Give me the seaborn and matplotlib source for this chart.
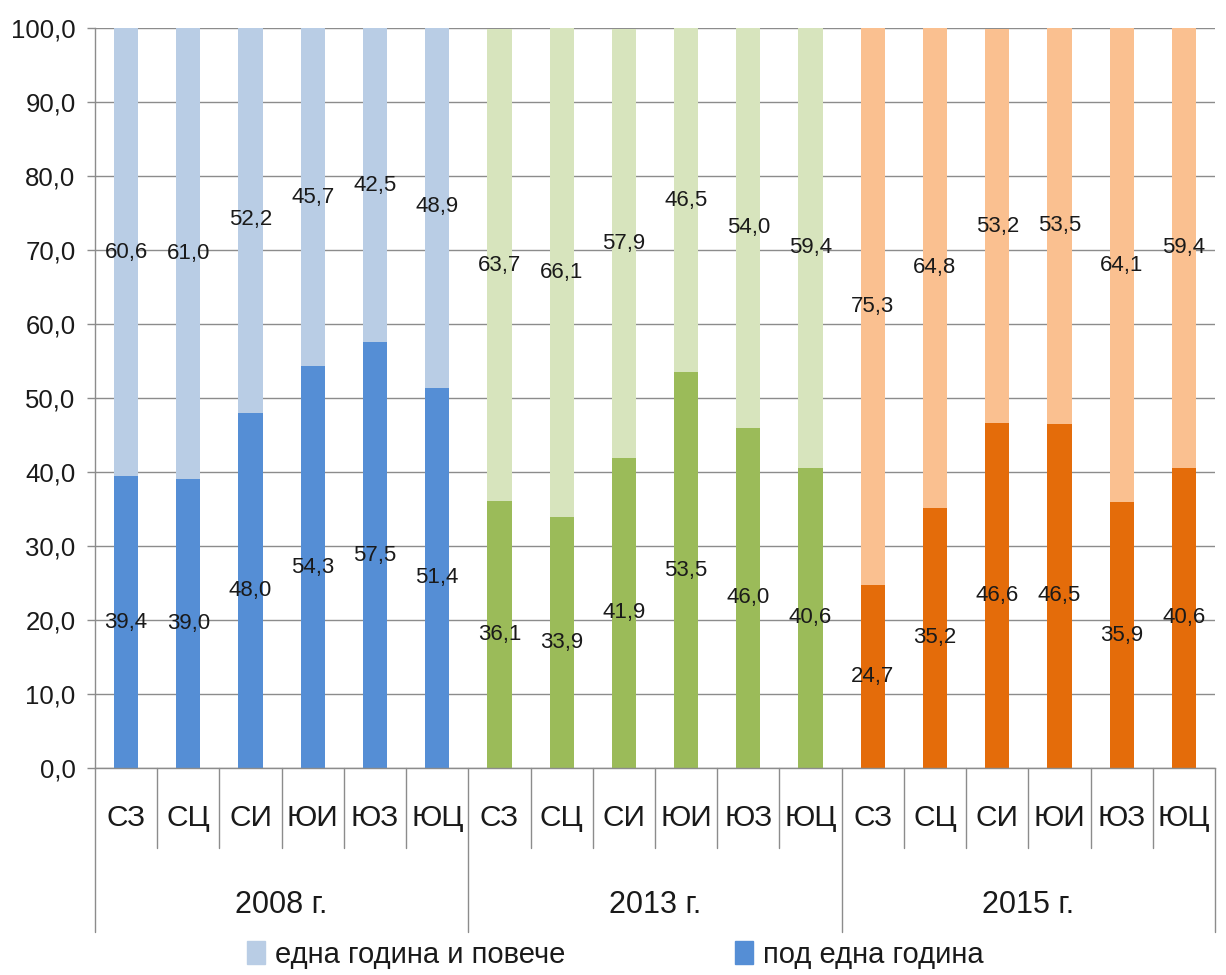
import numpy as np
import pandas as pd
import seaborn as sns
import matplotlib.pyplot as plt
import matplotlib.transforms as mtransforms
from matplotlib.patches import Patch

years = ['2008 г.', '2013 г.', '2015 г.']
regions = ['СЗ', 'СЦ', 'СИ', 'ЮИ', 'ЮЗ', 'ЮЦ']

# под една година
under_2008 = [39.4, 39.0, 48.0, 54.3, 57.5, 51.4]
under_2013 = [36.1, 33.9, 41.9, 53.5, 46.0, 40.6]
under_2015 = [24.7, 35.2, 46.6, 46.5, 35.9, 40.6]
# една година и повече
over_2008 = [60.6, 61.0, 52.2, 45.7, 42.5, 48.9]
over_2013 = [63.7, 66.1, 57.9, 46.5, 54.0, 59.4]
over_2015 = [75.3, 64.8, 53.2, 53.5, 64.1, 59.4]

light_cols = ['#B9CDE5', '#D7E4BD', '#FAC090']
dark_cols = ['#558ED5', '#9BBB59', '#E46C0A']
legend_labels = ['една година и повече', 'под една година']

rows = []
for y, un, ov in zip(years, [under_2008, under_2013, under_2015], [over_2008, over_2013, over_2015]):
    for r, u, o in zip(regions, un, ov):
        rows.append({'key': y + '|' + r, 'year': y, 'region': r, 'under': u, 'over': o, 'total': u + o})
df = pd.DataFrame(rows)

sns.set_style('white')
plt.rcParams['font.family'] = ['Liberation Sans', 'DejaVu Sans']

grid_col = '#8C8C8C'
txt_col = '#1a1a1a'
fig = plt.figure(figsize=(12.26, 9.75), dpi=100)
ax = fig.add_axes([0.0775, 0.2123, 0.9135, 0.759])

sns.barplot(data=df, x='key', y='total', hue='year', palette=light_cols, dodge=False,
            width=0.39, saturation=1, legend=False, linewidth=0, ax=ax)
sns.barplot(data=df, x='key', y='under', hue='year', palette=dark_cols, dodge=False,
            width=0.39, saturation=1, legend=False, linewidth=0, ax=ax)

fmt = lambda v: f'{v:.1f}'.replace('.', ',')
for i, row in df.iterrows():
    ax.text(i, row['under'] / 2, fmt(row['under']), ha='center', va='center', fontsize=16, color=txt_col)
    ax.text(i, row['under'] + row['over'] / 2, fmt(row['over']), ha='center', va='center', fontsize=16, color=txt_col)

ax.set_ylim(0, 100)
ax.set_xlim(-0.5, len(df) - 0.5)
ax.set_yticks(range(0, 101, 10))
ax.set_yticklabels([fmt(v) for v in range(0, 101, 10)], fontsize=18.5, color=txt_col)
ax.tick_params(axis='y', length=6, color=grid_col, width=1, pad=8, left=True)
ax.tick_params(axis='x', length=0, labelbottom=False)
ax.set_xlabel('')
ax.set_ylabel('')
ax.yaxis.grid(True, color=grid_col, linewidth=1)
ax.set_axisbelow(True)
for s in ['top', 'right']:
    ax.spines[s].set_visible(False)
for s in ['left', 'bottom']:
    ax.spines[s].set_color(grid_col)
    ax.spines[s].set_linewidth(1)

# multi-level category axis
trans = mtransforms.blended_transform_factory(ax.transData, ax.transAxes)
n = len(df)
for b in range(n + 1):
    xb = b - 0.5
    ybot = -0.222 if b % len(regions) == 0 else -0.108
    ax.plot([xb, xb], [0, ybot], transform=trans, clip_on=False, color=grid_col, lw=1)
for i, row in df.iterrows():
    ax.text(i, -0.068, row['region'], transform=trans, ha='center', va='center', fontsize=21.5, color=txt_col)
for g, y in enumerate(years):
    ax.text(g * len(regions) + (len(regions) - 1) / 2, -0.185, y, transform=trans,
            ha='center', va='center', fontsize=22, color=txt_col)

handles = [Patch(color=light_cols[0]), Patch(color=dark_cols[0])]
fig.legend(handles, legend_labels, loc='center', bbox_to_anchor=(0.502, 0.021), ncol=2,
           frameon=False, fontsize=21, handlelength=0.62, handleheight=0.85,
           handletextpad=0.35, columnspacing=5.8, labelcolor=txt_col)

fig.savefig('out.png', dpi=100)
